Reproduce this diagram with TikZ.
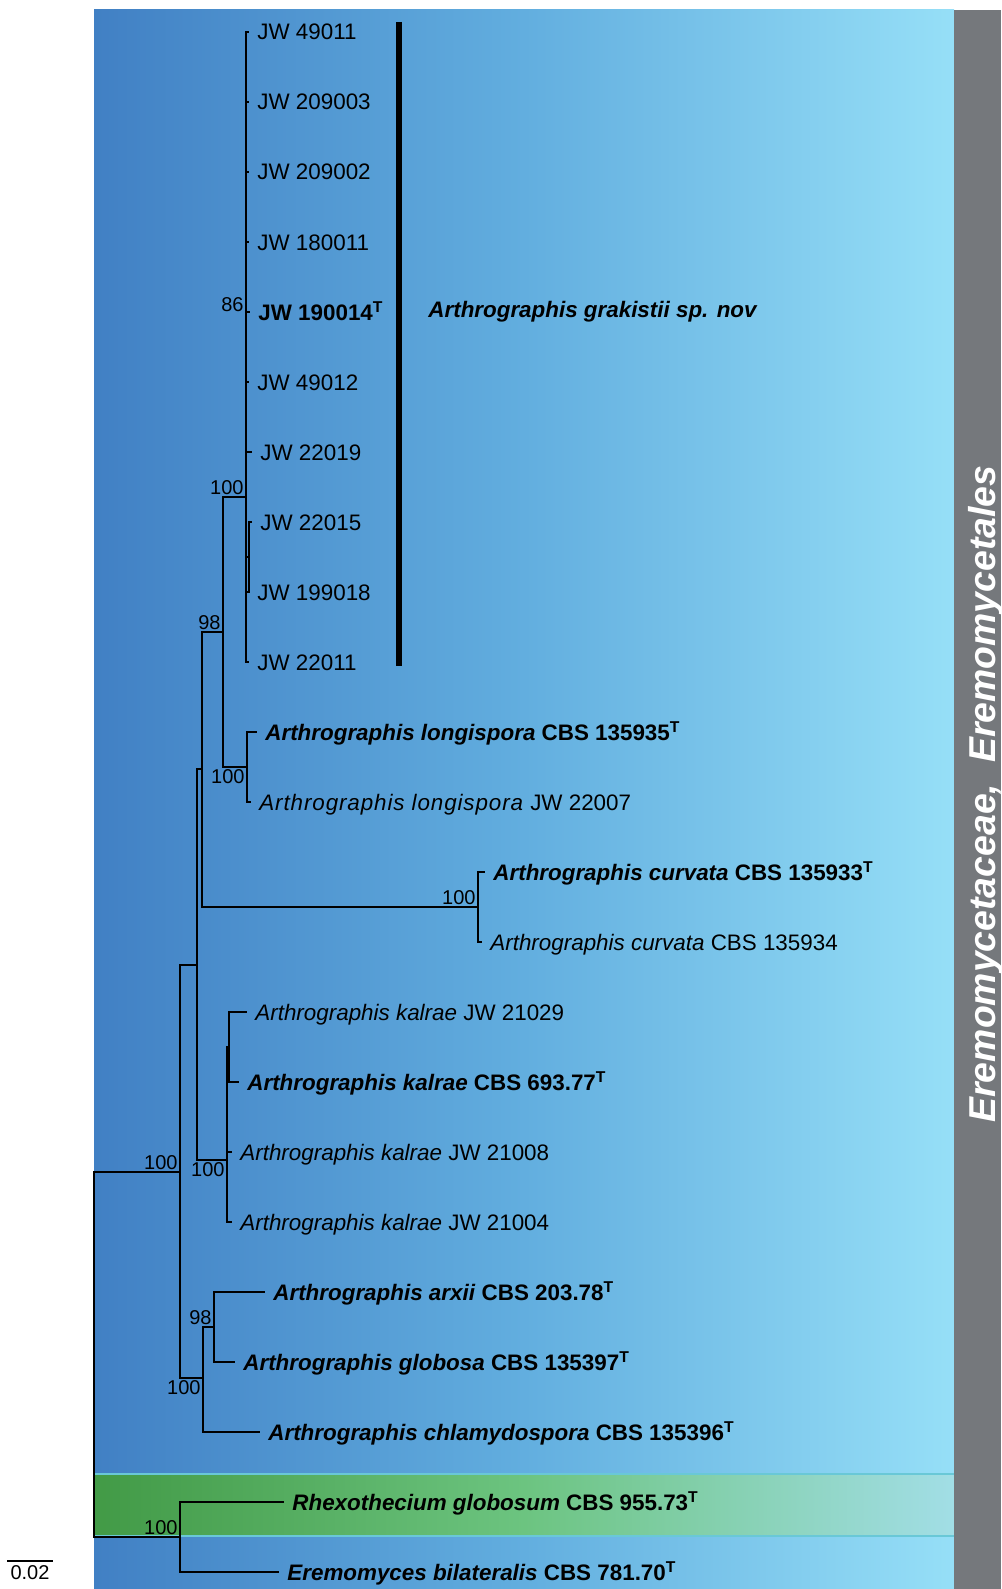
\documentclass[tikz,border=0pt]{standalone}
\usepackage{fontspec}
\setmainfont{Liberation Sans}
\usepackage{xcolor}
\usepackage{tikz}
\usetikzlibrary{positioning}

\definecolor{bgdark}{RGB}{65,128,196}
\definecolor{bgmid}{RGB}{98,174,223}
\definecolor{bglight}{RGB}{150,223,247}
\definecolor{grdark}{RGB}{66,154,70}
\definecolor{grmid}{RGB}{108,196,128}
\definecolor{grlight}{RGB}{162,222,230}
\definecolor{grline}{RGB}{105,200,215}
\definecolor{barcol}{RGB}{117,120,124}

\tikzset{
  branch/.style={line width=0.7pt, line cap=rect},
  leaf/.style={anchor=west, inner xsep=4.5pt, inner ysep=0pt, text height=8pt, text depth=0pt, font=\fontsize{11.2}{13}\selectfont},
  supp/.style={inner sep=1pt, font=\fontsize{10}{12}\selectfont},
}

\begin{document}
\begin{tikzpicture}[x=0.5pt, y=-0.5pt]
\useasboundingbox (0,0) rectangle (1001,1589);

% background %
\shade[left color=bgdark, right color=bglight, middle color=bgmid] (94,10) rectangle (954,1589);
\shade[left color=grdark, right color=grlight, middle color=grmid] (94,1474) rectangle (954,1536);
\draw[grline, line width=0.6pt] (94,1474) -- (954,1474) (94,1536) -- (954,1536);
\fill[barcol] (954,10) rectangle (1001,1589);
\node[rotate=90, text=white, inner sep=0pt, text height=13.4pt, text depth=0pt, font=\fontsize{18.7}{20}\selectfont\bfseries\itshape] (order) at (982,794) {Eremomycetaceae,\ \ Eremomycetales};

% internal nodes %
\coordinate (root) at (94,1354);
\coordinate (nIn) at (180,1172);
\coordinate (nOut) at (180,1537);
\coordinate (nA) at (197,965);
\coordinate (nB) at (203,1378);
\coordinate (nC) at (214,1327);
\coordinate (nD) at (202,769);
\coordinate (nE) at (223,632);
\coordinate (nF) at (246,497);
\coordinate (nSub) at (249,557);
\coordinate (nL) at (247,767);
\coordinate (nCv) at (478,907);
\coordinate (nK) at (227,1160);
\coordinate (nS) at (229,1047);

% leaves %
\node[leaf] (jw49011) at (248,32) {JW 49011};
\node[leaf] (jw209003) at (248,102) {JW 209003};
\node[leaf] (jw209002) at (248,172) {JW 209002};
\node[leaf] (jw180011) at (248,242) {JW 180011};
\node[leaf] (jw190014) at (249,312) {\textbf{JW 190014\textsuperscript{T}}};
\node[leaf] (jw49012) at (248,382) {JW 49012};
\node[leaf] (jw22019) at (251,452) {JW 22019};
\node[leaf] (jw22015) at (251,522) {JW 22015};
\node[leaf] (jw199018) at (248,592) {JW 199018};
\node[leaf] (jw22011) at (248,662) {JW 22011};
\node[leaf] (lon1) at (256,732) {\textbf{\textit{Arthrographis longispora} CBS 135935\textsuperscript{T}}};
\node[leaf] (lon2) at (250,802) {\textit{\addfontfeature{LetterSpace=4}Arthrographis longispora} JW 22007};
\node[leaf] (cur1) at (484,872) {\textbf{\textit{Arthrographis curvata} CBS 135933\textsuperscript{T}}};
\node[leaf] (cur2) at (481,942) {\textit{Arthrographis curvata} CBS 135934};
\node[leaf] (kal1) at (246,1012) {\textit{Arthrographis kalrae} JW 21029};
\node[leaf] (kal2) at (238,1082) {\textbf{\textit{Arthrographis kalrae} CBS 693.77\textsuperscript{T}}};
\node[leaf] (kal3) at (231,1152) {\textit{Arthrographis kalrae} JW 21008};
\node[leaf] (kal4) at (231,1222) {\textit{Arthrographis kalrae} JW 21004};
\node[leaf] (arx) at (264,1292) {\textbf{\textit{Arthrographis arxii} CBS 203.78\textsuperscript{T}}};
\node[leaf] (glo) at (234,1362) {\textbf{\textit{Arthrographis globosa} CBS 135397\textsuperscript{T}}};
\node[leaf] (chl) at (259,1432) {\textbf{\textit{Arthrographis chlamydospora} CBS 135396\textsuperscript{T}}};
\node[leaf] (rhe) at (283,1502) {\textbf{\textit{Rhexothecium globosum} CBS 955.73\textsuperscript{T}}};
\node[leaf] (ere) at (278,1572) {\textbf{\textit{Eremomyces bilateralis} CBS 781.70\textsuperscript{T}}};

% support values %
\node[supp, anchor=south east] (bF) at (nF) {100};
\node[supp, anchor=south east] (b86) at (246,314) {86};
\node[supp, anchor=south east] (bE) at (nE) {98};
\node[supp, anchor=north east] (bL) at (nL) {100};
\node[supp, anchor=south east] (bCv) at (nCv) {100};
\node[supp, anchor=south east] (bIn) at (nIn) {100};
\node[supp, anchor=north east] (bK) at (nK) {100};
\node[supp, anchor=south east] (bC) at (nC) {98};
\node[supp, anchor=north east] (bB) at (nB) {100};
\node[supp, anchor=south east] (bOut) at (nOut) {100};

% clade bar %
\coordinate (barTop) at (399,22);
\coordinate (barBot) at (399,666);
\draw[line width=3pt] (barTop) -- (barBot);
\node[anchor=west, inner sep=0pt, font=\fontsize{11.2}{13}\selectfont\bfseries\itshape] (grak) at (428,312) {Arthrographis grakistii sp. nov};

% scale bar %
\coordinate (sbL) at (8,1561);
\coordinate (sbR) at (52,1561);
\draw[branch] (sbL) -- (sbR);
\node[supp, anchor=north] (sbText) at (30,1563) {0.02};

% edges %
\draw[branch] (root) |- (nIn);
\draw[branch] (root) |- (nOut);
\draw[branch] (nOut) |- (rhe.west);
\draw[branch] (nOut) |- (ere.west);
\draw[branch] (nIn) |- (nA);
\draw[branch] (nIn) |- (nB);
\draw[branch] (nB) |- (nC);
\draw[branch] (nB) |- (chl.west);
\draw[branch] (nC) |- (arx.west);
\draw[branch] (nC) |- (glo.west);
\draw[branch] (nA) |- (nD);
\draw[branch] (nA) |- (nK);
\draw[branch] (nK) |- (nS);
\draw[branch] (nS) |- (kal1.west);
\draw[branch] (nS) |- (kal2.west);
\draw[branch] (nK) |- (kal3.west);
\draw[branch] (nK) |- (kal4.west);
\draw[branch] (nD) |- (nE);
\draw[branch] (nD) |- (nCv);
\draw[branch] (nCv) |- (cur1.west);
\draw[branch] (nCv) |- (cur2.west);
\draw[branch] (nE) |- (nF);
\draw[branch] (nE) |- (nL);
\draw[branch] (nL) |- (lon1.west);
\draw[branch] (nL) |- (lon2.west);
\draw[branch] (nF) |- (jw49011.west);
\draw[branch] (nF) |- (jw209003.west);
\draw[branch] (nF) |- (jw209002.west);
\draw[branch] (nF) |- (jw180011.west);
\draw[branch] (nF) |- (jw190014.west);
\draw[branch] (nF) |- (jw49012.west);
\draw[branch] (nF) |- (jw22019.west);
\draw[branch] (nF) |- (nSub);
\draw[branch] (nSub) |- (jw22015.west);
\draw[branch] (nSub) |- (jw199018.west);
\draw[branch] (nF) |- (jw22011.west);

\end{tikzpicture}
\end{document}
